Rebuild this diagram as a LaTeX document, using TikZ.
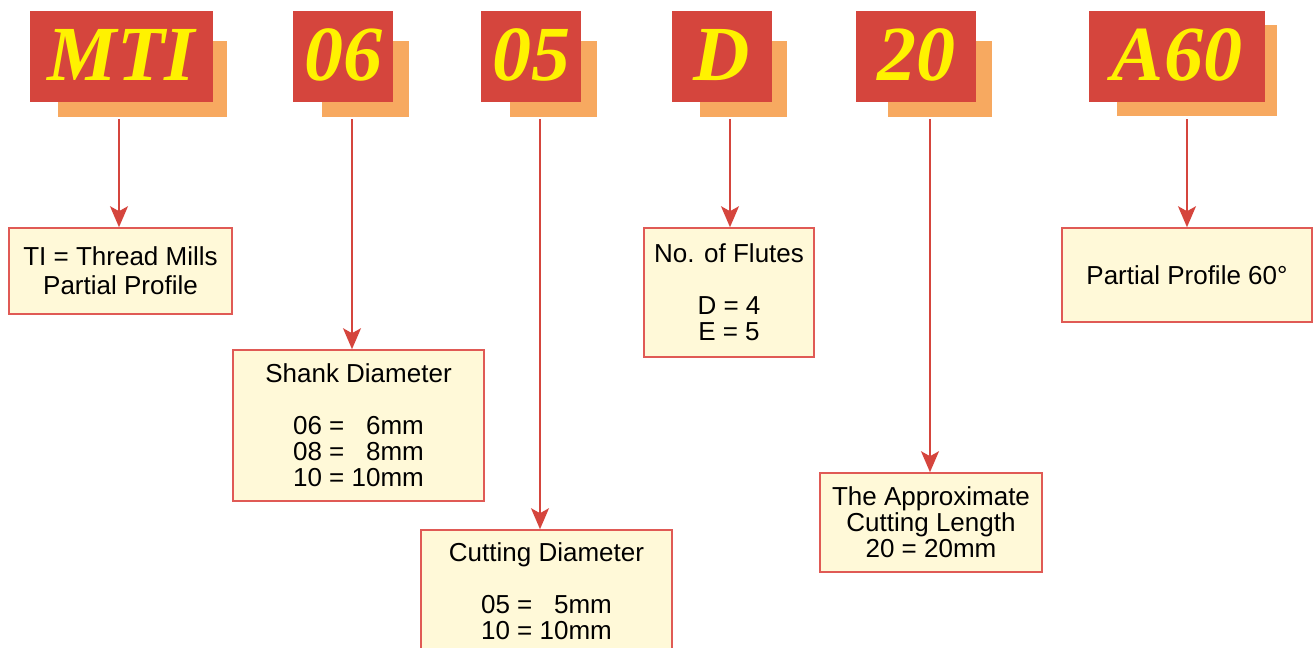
\documentclass[tikz,border=0pt]{standalone}
\usepackage{fontspec}
\setmainfont{Liberation Sans}
\newfontfamily\codefont{Liberation Serif}
\usetikzlibrary{arrows.meta}
\definecolor{codered}{HTML}{D5453D}
\definecolor{codeshade}{HTML}{F7A960}
\definecolor{codeyellow}{HTML}{FFF200}
\definecolor{infofill}{HTML}{FFF9D8}
\definecolor{infoline}{HTML}{E05A55}

\begin{document}
\begin{tikzpicture}[x=0.5pt,y=-0.5pt,
        code/.style={fill=codered,inner sep=0pt,minimum height=45.5pt,text=codeyellow,
            font=\codefont\bfseries\itshape\fontsize{39}{39}\selectfont,text height=28pt,text depth=4pt},
        shade/.style={fill=codeshade},
        info/.style={draw=infoline,line width=0.8pt,fill=infofill,inner sep=0pt,align=center,
            font=\fontsize{13}{13}\selectfont},
        pointer/.style={draw=codered,line width=0.8pt,-{Stealth[length=10.5pt,width=9pt,inset=2.5pt]}}]
        \useasboundingbox (0,0) rectangle (1313,648);
        % shadows behind the code letters
        \fill[shade] (58,41) rectangle (227,117);
        \fill[shade] (322,41) rectangle (409,117);
        \fill[shade] (510,41) rectangle (597,117);
        \fill[shade] (700,41) rectangle (787,117);
        \fill[shade] (888,41) rectangle (992,117);
        \fill[shade] (1117,25) rectangle (1277,116);
        % code letters
        \node[code,minimum width=91.5pt] (mti) at (121.5,56.5) {MTI};
        \node[code,minimum width=50pt] (shank) at (343,56.5) {06};
        \node[code,minimum width=50pt] (cut) at (531,56.5) {05};
        \node[code,minimum width=50pt] (flute) at (722,56.5) {D};
        \node[code,minimum width=60pt] (len) at (916,56.5) {20};
        \node[code,minimum width=88pt] (prof) at (1177,56.5) {A60};
        % meanings
        \node[info,minimum width=111.5pt,minimum height=43pt] (mtiinfo) at (120.5,271)
            {TI = Thread Mills\\[1.5pt]Partial Profile};
        \node[info,minimum width=125.5pt,minimum height=75.5pt] (shankinfo) at (358.5,425.5)
            {Shank Diameter\\[13pt]06 = \phantom{1}6mm\\08 = \phantom{1}8mm\\10 = 10mm};
        \node[info,minimum width=125.5pt,minimum height=61.5pt] (cutinfo) at (546.5,591.5)
            {Cutting Diameter\\[13pt]05 = \phantom{1}5mm\\10 = 10mm};
        \node[info,minimum width=85pt,minimum height=64.5pt] (fluteinfo) at (729,292.5)
            {No. of Flutes\\[13pt]D = 4\\E = 5};
        \node[info,minimum width=111pt,minimum height=49.5pt] (leninfo) at (931,522.5)
            {The Approximate\\Cutting Length\\20 = 20mm};
        \node[info,minimum width=125pt,minimum height=47pt] (profinfo) at (1187,275)
            {Partial Profile 60°};
        % pointers
        \coordinate (p1) at (119,119);
        \coordinate (p2) at (352,119);
        \coordinate (p3) at (540,119);
        \coordinate (p4) at (730,119);
        \coordinate (p5) at (930,119);
        \coordinate (p6) at (1187,119);
        \draw[pointer] (p1) -- (p1 |- mtiinfo.north);
        \draw[pointer] (p2) -- (p2 |- shankinfo.north);
        \draw[pointer] (p3) -- (p3 |- cutinfo.north);
        \draw[pointer] (p4) -- (p4 |- fluteinfo.north);
        \draw[pointer] (p5) -- (p5 |- leninfo.north);
        \draw[pointer] (p6) -- (p6 |- profinfo.north);
    \end{tikzpicture}
\end{document}
